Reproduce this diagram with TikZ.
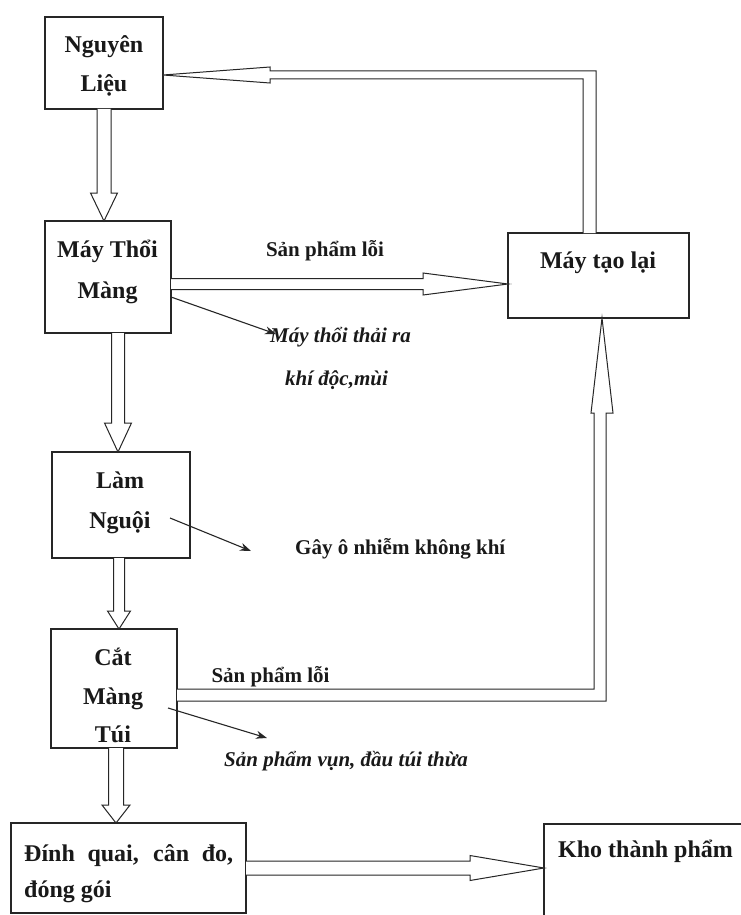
\documentclass[tikz,border=0pt]{standalone}
\usepackage{fontspec}
\setmainfont{Liberation Serif}
\usetikzlibrary{calc,arrows.meta}
\tikzset{
  box/.style={draw=black!85, line width=1.1pt, rectangle, inner sep=0pt, outer sep=0pt, fill=none},
  btxt/.style={inner sep=0pt, font=\fontsize{24}{28}\selectfont\bfseries, text=black!90},
  ltxt/.style={inner sep=0pt, font=\fontsize{21}{25}\selectfont\bfseries, text=black!90},
  itxt/.style={inner sep=0pt, font=\fontsize{21}{25}\selectfont\bfseries\itshape, text=black!90},
  blockarrow/.style={draw=black!85, line width=1pt, fill=white, line join=miter},
  thinarrow/.style={draw=black!85, line width=1.1pt, -{Stealth[length=11pt,width=8pt]}}
}
% vertical block arrow pointing down: #1 start, #2 tip, #3 shaft half, #4 head half, #5 head length
\newcommand\blkdown[5]{%
  \draw[blockarrow] let \p1=(#1), \p2=(#2) in
    (\x2-#3,\y1) -- (\x2-#3,\y2+#5) -- (\x2-#4,\y2+#5) -- (\x2,\y2)
    -- (\x2+#4,\y2+#5) -- (\x2+#3,\y2+#5) -- (\x2+#3,\y1);}
% horizontal block arrow pointing right
\newcommand\blkright[5]{%
  \draw[blockarrow] let \p1=(#1), \p2=(#2) in
    (\x1,\y2+#3) -- (\x2-#5,\y2+#3) -- (\x2-#5,\y2+#4) -- (\x2,\y2)
    -- (\x2-#5,\y2-#4) -- (\x2-#5,\y2-#3) -- (\x1,\y2-#3);}
\begin{document}
\begin{tikzpicture}[x=1pt,y=-1pt]
\useasboundingbox (0,0) rectangle (741,915);
\clip (0,0) rectangle (741,915);
\fill[white] (0,0) rectangle (741,915);

% boxes
\node[box, minimum width=118pt, minimum height=92pt] (b1) at (104,63) {};
\node[box, minimum width=126pt, minimum height=112pt] (b2) at (108,277) {};
\node[box, minimum width=138pt, minimum height=106pt] (b3) at (121,505) {};
\node[box, minimum width=126pt, minimum height=119pt] (b4) at (114,688.5) {};
\node[box, minimum width=235pt, minimum height=90pt] (b5) at (128.5,868) {};
\node[box, minimum width=181pt, minimum height=85pt] (mtl) at (598.5,275.5) {};
\node[box, minimum width=236pt, minimum height=101pt] (kho) at (662,874.5) {};

% box texts
\node[btxt, anchor=base] (t1a) at (104,53) {Nguyên};
\node[btxt, anchor=base] (t1b) at (104,92) {Liệu};
\node[btxt, anchor=base] (t2a) at (107.5,257) {Máy Thổi};
\node[btxt, anchor=base] (t2b) at (107.5,298) {Màng};
\node[btxt, anchor=base] (t3a) at (120,488) {Làm};
\node[btxt, anchor=base] (t3b) at (120,528) {Nguội};
\node[btxt, anchor=base] (t4a) at (113,665) {Cắt};
\node[btxt, anchor=base] (t4b) at (113,704) {Màng};
\node[btxt, anchor=base] (t4c) at (113,742) {Túi};
\node[btxt, anchor=base west] (t5a) at (24,861) {\makebox[209pt][s]{Đính quai, cân đo,}};
\node[btxt, anchor=base west] (t5b) at (24,897) {đóng gói};
\node[btxt, anchor=base] (tm) at (598,268) {Máy tạo lại};
\node[btxt, anchor=base west] (tk) at (558,857) {Kho thành phẩm};

% labels
\node[ltxt, anchor=base] (l1) at (325,256) {Sản phẩm lỗi};
\node[ltxt, anchor=base] (l2) at (270.5,682) {Sản phẩm lỗi};
\node[itxt, anchor=base west] (l3) at (270,342) {Máy thổi thải ra};
\node[itxt, anchor=base west] (l4) at (285,385) {khí độc,mùi};
\node[ltxt, anchor=base west] (l5) at (295,554) {Gây ô nhiễm không khí};
\node[itxt, anchor=base west] (l6) at (224,766) {Sản phẩm vụn, đầu túi thừa};

% block arrows down
\coordinate (a1s) at (b1.south);
\coordinate (a1t) at (a1s |- b2.north);
\blkdown{a1s}{a1t}{7pt}{13.5pt}{28pt}
\coordinate (a2t) at ([xshift=-3pt]b3.north);
\coordinate (a2s) at (a2t |- b2.south);
\blkdown{a2s}{a2t}{6.5pt}{13.5pt}{29pt}
\coordinate (a3s) at ([xshift=-2pt]b3.south);
\coordinate (a3t) at (a3s |- b4.north);
\blkdown{a3s}{a3t}{5.5pt}{11.5pt}{18pt}
\coordinate (a4s) at ([xshift=2pt]b4.south);
\coordinate (a4t) at (a4s |- b5.north);
\blkdown{a4s}{a4t}{7.5pt}{14pt}{18pt}

% block arrows right
\coordinate (a5s) at ([yshift=-7pt]b2.east);
\coordinate (a5t) at (a5s -| mtl.west);
\blkright{a5s}{a5t}{5.5pt}{11pt}{85pt}
\coordinate (a6s) at (b5.east);
\coordinate (a6t) at (a6s -| kho.west);
\blkright{a6s}{a6t}{7pt}{12.5pt}{74pt}

% return arrow: Máy tạo lại -> Nguyên Liệu
\coordinate (a7s) at ([xshift=-9pt]mtl.north);
\coordinate (a7t) at ([yshift=-12pt]b1.east);
\draw[blockarrow] let \p1=(a7s), \p2=(a7t) in
  (\x1+6.5pt,\y1) -- (\x1+6.5pt,\y2+4pt) -- (\x2+107pt,\y2+4pt) -- (\x2+107pt,\y2+8pt)
  -- (\x2,\y2) -- (\x2+107pt,\y2-8pt) -- (\x2+107pt,\y2-4pt) -- (\x1-6.5pt,\y2-4pt) -- (\x1-6.5pt,\y1);

% return arrow: Cắt Màng Túi -> Máy tạo lại
\coordinate (a8s) at ([yshift=-6.5pt]b4.east);
\coordinate (a8t) at ([xshift=3.5pt]mtl.south);
\draw[blockarrow] let \p1=(a8s), \p2=(a8t) in
  (\x1,\y1+6pt) -- (\x2-8pt,\y1+6pt) -- (\x2-8pt,\y2-95pt) -- (\x2-11pt,\y2-95pt)
  -- (\x2,\y2) -- (\x2+11pt,\y2-95pt) -- (\x2+4pt,\y2-95pt) -- (\x2+4pt,\y1-6pt) -- (\x1,\y1-6pt);

% thin arrows
\coordinate (d1s) at ([yshift=-20pt]b2.east);
\coordinate (d1e) at (276,334);
\draw[thinarrow] (d1s) -- (d1e);
\coordinate (d2s) at (170,518);
\coordinate (d2e) at (251,551);
\draw[thinarrow] (d2s) -- (d2e);
\coordinate (d3s) at (168,708);
\coordinate (d3e) at (267,738);
\draw[thinarrow] (d3s) -- (d3e);
\end{tikzpicture}
\end{document}
